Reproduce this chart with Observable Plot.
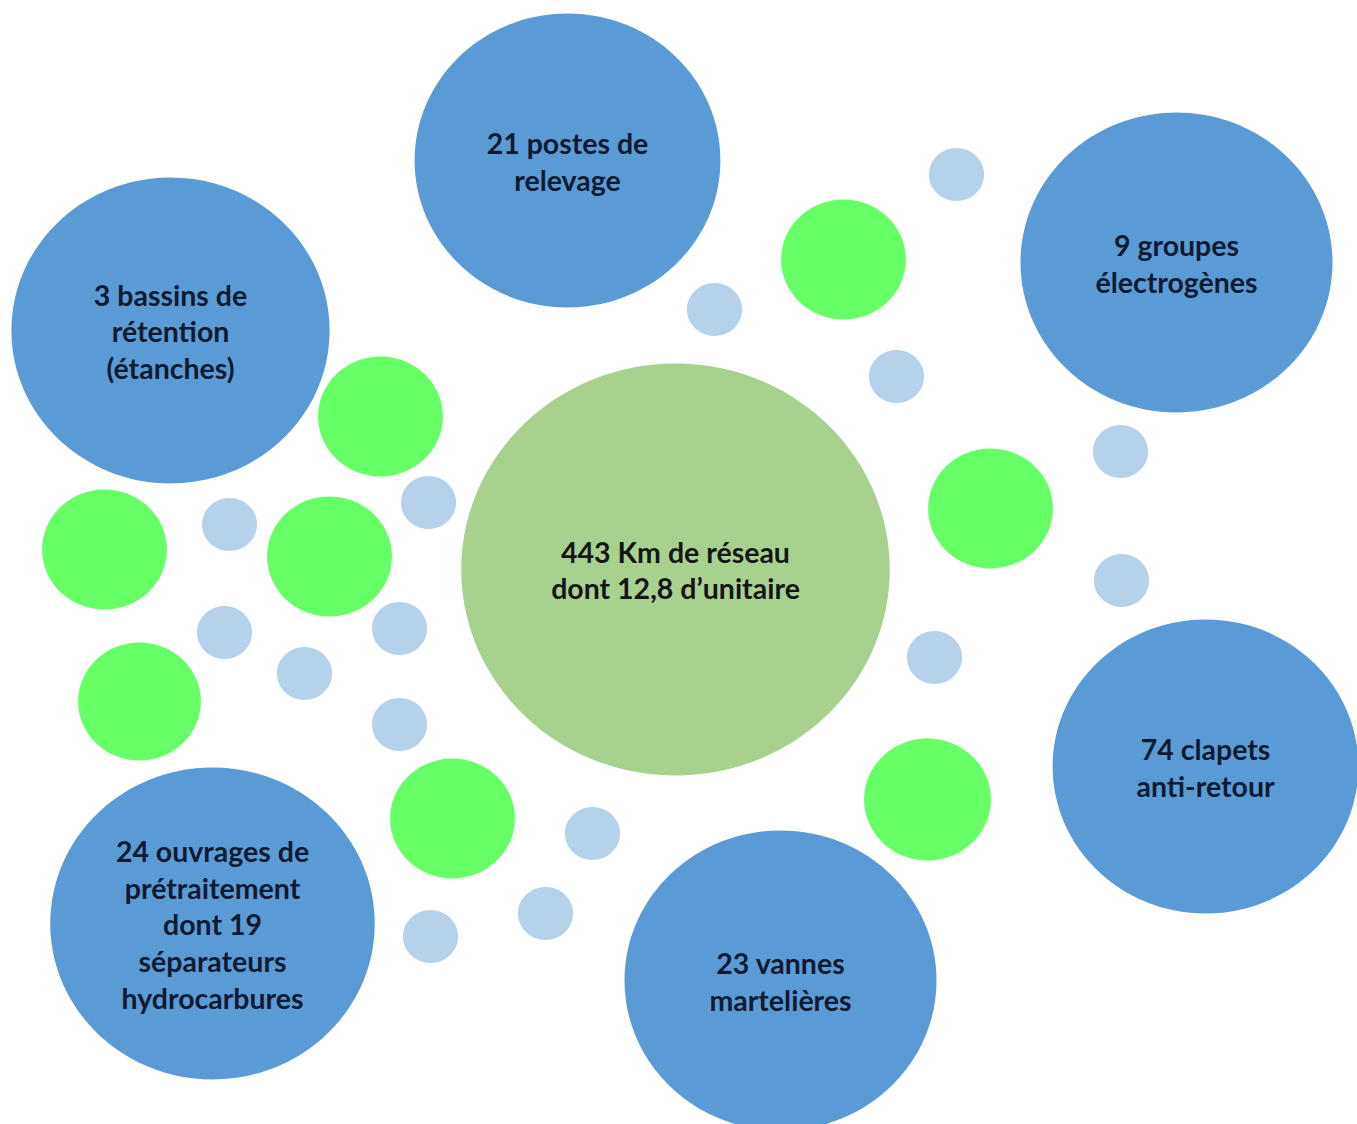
<!DOCTYPE html>
<html>
<head>
<meta charset="utf-8">
<script src="https://cdn.jsdelivr.net/npm/d3@7"></script>
<script src="https://cdn.jsdelivr.net/npm/@observablehq/plot@0.6"></script>
<style>
  html, body { margin: 0; padding: 0; background: #ffffff; }
  #chart svg { display: block; }
</style>
</head>
<body>
<div id="chart"></div>
<script>
// Central hub (network length)
const hubLabels = ["443 Km de réseau\ndont 12,8 d’unitaire"];
const hubX = [675];
const hubY = [569];
const hubR = [206];

// Large blue bubbles (equipment counts)
const blueLabels = [
  "21 postes de\nrelevage",
  "3 bassins de\nrétention\n(étanches)",
  "9 groupes\nélectrogènes",
  "74 clapets\nanti-retour",
  "23 vannes\nmartelières",
  "24 ouvrages de\nprétraitement\ndont 19\nséparateurs\nhydrocarbures"
];
const blueX = [567, 170, 1176, 1205, 780, 212];
const blueY = [160, 330, 262, 766, 980, 923];
const blueR = [147, 153, 150, 147, 150, 156];

// Decorative bright-green bubbles
const greenX = [843, 380, 104, 329, 990, 139, 452, 927];
const greenY = [259, 416, 549, 556, 508, 701, 818, 799];
const greenR = [60, 60, 60, 60, 60, 59, 60, 61];

// Decorative small light-blue bubbles
const smallX = [956, 714, 896, 428, 229, 1120, 1121, 224, 399, 304, 934, 399, 592, 545, 430];
const smallY = [174, 309, 376, 502, 524, 451, 580, 632, 628, 673, 657, 724, 833, 913, 936];
const smallR = 26.5;

const W = 1357, H = 1124;
const ASPECT = 1.04; // bubbles are slightly wider than tall in the original

// Ellipse symbol: size = π r², drawn with horizontal radius stretched by ASPECT
const ellipse = {
  draw(ctx, size) {
    const ry = Math.sqrt(size / Math.PI);
    const rx = ry * ASPECT;
    const k = 0.5522847498;
    ctx.moveTo(rx, 0);
    ctx.bezierCurveTo(rx, k * ry, k * rx, ry, 0, ry);
    ctx.bezierCurveTo(-k * rx, ry, -rx, k * ry, -rx, 0);
    ctx.bezierCurveTo(-rx, -k * ry, -k * rx, -ry, 0, -ry);
    ctx.bezierCurveTo(k * rx, -ry, rx, -k * ry, rx, 0);
    ctx.closePath();
  }
};

const hub = hubLabels.map((label, i) => ({label, x: hubX[i], y: hubY[i], r: hubR[i]}));
const blues = blueLabels.map((label, i) => ({label, x: blueX[i], y: blueY[i], r: blueR[i]}));
const greens = greenX.map((x, i) => ({x, y: greenY[i], r: greenR[i]}));
const smalls = smallX.map((x, i) => ({x, y: smallY[i], r: smallR}));

const plot = Plot.plot({
  width: W,
  height: H,
  margin: 0,
  x: {domain: [0, W], range: [0, W], axis: null},
  y: {domain: [0, H], range: [0, H], axis: null},
  r: {type: "identity"},
  style: {background: "#ffffff", fontFamily: "Lato, 'Open Sans', sans-serif"},
  marks: [
    Plot.dot(smalls, {x: "x", y: "y", r: "r", symbol: ellipse, fill: "#b6d1ea", stroke: "none"}),
    Plot.dot(greens, {x: "x", y: "y", r: "r", symbol: ellipse, fill: "#66ff66", stroke: "none"}),
    Plot.dot(hub, {x: "x", y: "y", r: "r", symbol: ellipse, fill: "#a9d18e", stroke: "none"}),
    Plot.dot(blues, {x: "x", y: "y", r: "r", symbol: ellipse, fill: "#5b9bd5", stroke: "none"}),
    Plot.text(hub, {x: "x", y: "y", text: "label", fill: "#151515", fontSize: 28.5, fontWeight: "bold",
      lineAnchor: "middle", lineHeight: 1.27, fontFamily: "Lato"}),
    Plot.text(blues, {x: "x", y: "y", text: "label", fill: "#0e1a33", fontSize: 28.5, fontWeight: "bold",
      lineAnchor: "middle", lineHeight: 1.29, fontFamily: "Lato"})
  ]
});

document.getElementById("chart").appendChild(plot);
</script>
</body>
</html>
